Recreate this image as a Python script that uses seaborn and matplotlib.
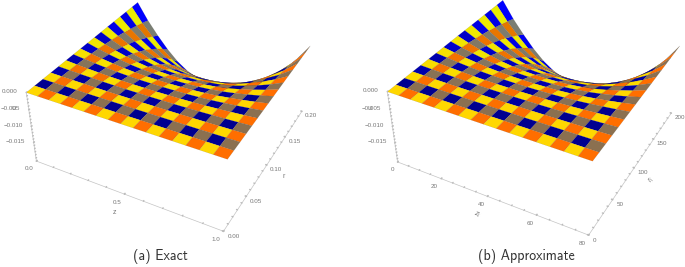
import numpy as np
import matplotlib
matplotlib.use("Agg")
import matplotlib.pyplot as plt
import seaborn as sns
from matplotlib.ticker import MultipleLocator

sns.set_theme(style="white")
plt.rcParams['font.family'] = ['Liberation Sans', 'DejaVu Sans']

W, H = 685, 267

z_exact = [0, .0625, .125, .1875, .25, .3125, .375, .4375, .5, .5625, .625, .6875, .75, .8125, .875, .9375, 1]
r_exact = [0, .0125, .025, .0375, .05, .0625, .075, .0875, .1, .1125, .125, .1375, .15, .1625, .175, .1875, .2]
z_approx = [0, 5, 10, 15, 20, 25, 30, 35, 40, 45, 50, 55, 60, 65, 70, 75, 80]
r_approx = [0, 12.5, 25, 37.5, 50, 62.5, 75, 87.5, 100, 112.5, 125, 137.5, 150, 162.5, 175, 187.5, 200]
u_ticks = [0, -0.005, -0.01, -0.015]

# surface heights, in 1e-5, rows along z, columns along r
u_rows = [
    [0, 0, 0, 0, 0, 0, 0, 0, 0, 0, 0, 0, 0, 0, 0, 0, 0],
    [0, -1, -3, -8, -16, -28, -43, -64, -89, -119, -156, -198, -245, -300, -361, -429, -504],
    [0, -1, -5, -14, -29, -51, -79, -117, -164, -219, -286, -362, -450, -550, -662, -786, -924],
    [0, -1, -7, -20, -40, -72, -112, -165, -230, -309, -402, -510, -634, -775, -932, -1108, -1302],
    [0, -2, -9, -24, -50, -89, -139, -205, -286, -383, -500, -634, -787, -962, -1158, -1376, -1617],
    [0, -2, -10, -28, -57, -102, -159, -235, -327, -438, -571, -724, -900, -1100, -1323, -1573, -1848],
    [0, -2, -11, -30, -62, -110, -172, -253, -353, -473, -616, -782, -972, -1187, -1428, -1698, -1995],
    [0, -2, -11, -31, -64, -114, -179, -264, -368, -493, -642, -815, -1012, -1237, -1489, -1769, -2079],
    [0, -2, -12, -32, -65, -116, -181, -267, -372, -498, -649, -823, -1023, -1250, -1504, -1787, -2100],
    [0, -2, -11, -31, -64, -114, -179, -264, -368, -493, -642, -815, -1012, -1237, -1489, -1769, -2079],
    [0, -2, -11, -30, -62, -110, -172, -253, -353, -473, -616, -782, -972, -1187, -1428, -1698, -1995],
    [0, -2, -10, -28, -57, -102, -159, -235, -327, -438, -571, -724, -900, -1100, -1323, -1573, -1848],
    [0, -2, -9, -24, -50, -89, -139, -205, -286, -383, -500, -634, -787, -962, -1158, -1376, -1617],
    [0, -1, -7, -20, -40, -72, -112, -165, -230, -309, -402, -510, -634, -775, -932, -1108, -1302],
    [0, -1, -5, -14, -29, -51, -79, -117, -164, -219, -286, -362, -450, -550, -662, -786, -924],
    [0, -1, -3, -8, -16, -28, -43, -64, -89, -119, -156, -198, -245, -300, -361, -429, -504],
    [0, 0, 0, 0, 0, 0, 0, 0, 0, 0, 0, 0, 0, 0, 0, 0, 0],
]
u_table = np.array(u_rows) * 1e-5

fig = plt.figure(figsize=(W / 100, H / 100), dpi=100)

levels = 9
yellow = sns.blend_palette(['#FFD700', '#E6F000'], levels)
blue = sns.blend_palette(['#000090', '#0000FF'], levels)
brown = sns.blend_palette(['#8B7050', '#788078'], levels)
orange = sns.blend_palette(['#FF6E00', '#E07800'], levels)

def panel(view, px, zg, rg, xmaj, xmin, ymaj, ymin, xl, yl):
    ax = fig.add_axes([px[0] / W, px[1] / H, px[2] / W, px[2] / H], projection='3d')
    ax.set_facecolor('none')
    ax.set_proj_type('persp', focal_length=view[2])
    ax.view_init(elev=view[0], azim=view[1])
    ax.set_box_aspect((view[3], 1, view[4]))
    X, Y = np.meshgrid(zg, rg, indexing='ij')
    fc = np.zeros(X.shape + (4,))
    for i in range(X.shape[0]):
        for j in range(X.shape[1]):
            pal = [[yellow, orange], [blue, brown]][j % 2][i % 2]
            t = (j / 16) * (1 - i / 16)
            fc[i, j] = (*pal[int(round(t * (levels - 1)))], 1)
    ax.plot_surface(X, Y, u_table, facecolors=fc, rstride=1, cstride=1, shade=False,
                    edgecolor=(0.2, 0.2, 0.2, 0.6), linewidth=0.1, antialiased=True)
    ax.set_xlim(zg[0], zg[-1]); ax.set_ylim(rg[0], rg[-1]); ax.set_zlim(-0.021, 0)
    ax.grid(False)
    ax.xaxis.set_major_locator(MultipleLocator(xmaj)); ax.xaxis.set_minor_locator(MultipleLocator(xmin))
    ax.yaxis.set_major_locator(MultipleLocator(ymaj)); ax.yaxis.set_minor_locator(MultipleLocator(ymin))
    ax.set_zticks(u_ticks)
    ax.zaxis.set_minor_locator(MultipleLocator(0.001))
    ax.zaxis.set_ticks_position('lower')
    for a in (ax.xaxis, ax.yaxis, ax.zaxis):
        a.set_pane_color((1, 1, 1, 0))
        a.pane.set_edgecolor('none')
        a.line.set_color('#c4c4c4'); a.line.set_linewidth(0.5)
        a._axinfo['tick']['inward_factor'] = 0
        a._axinfo['tick']['outward_factor'] = 0.06
    ax.tick_params(axis='both', which='both', labelsize=4.5, labelcolor='#777777', color='#bbbbbb', width=0.35, pad=-6)
    ax.tick_params(axis='x', which='both', pad=-5)
    ax.tick_params(axis='z', which='both', pad=-5)
    for t in ax.xaxis.get_major_ticks():
        t.label1.set_ha('right')
    for t in ax.yaxis.get_major_ticks():
        t.label1.set_ha('left')
    for t in ax.zaxis.get_major_ticks():
        t.label1.set_ha('right')
        t.label1.set_va('bottom')
    ax.set_xlabel(xl, fontsize=5, color='#777777', labelpad=-11)
    ax.set_ylabel(yl, fontsize=5, color='#777777', labelpad=-11)
    return ax

panel([35.4283, -62.0366, 0.4535, 1.0045, 0.4066], (26.9, 15.9, 289), z_exact, r_exact, .5, .1, .05, .01, 'z', 'r')
panel([35.2942, -61.4593, 0.4586, 1.0089, 0.4067], (388.1, 11.4, 296.7), z_approx, r_approx, 20, 5, 50, 10, '$z_i$', '$r_i$')

fig.text(13 / W, 1 - 108 / H, 'u', ha='center', va='center', fontsize=5, color='#777777')
fig.text(369 / W, 1 - 109 / H, 'u', ha='center', va='center', fontsize=5, color='#777777')
fig.text(160 / W, 10 / H, '(a) Exact', ha='center', va='center', fontsize=10, family='cmss10', color='#333333')
fig.text(526 / W, 10 / H, '(b) Approximate', ha='center', va='center', fontsize=10, family='cmss10', color='#333333')
fig.savefig('out.png', dpi=100)
